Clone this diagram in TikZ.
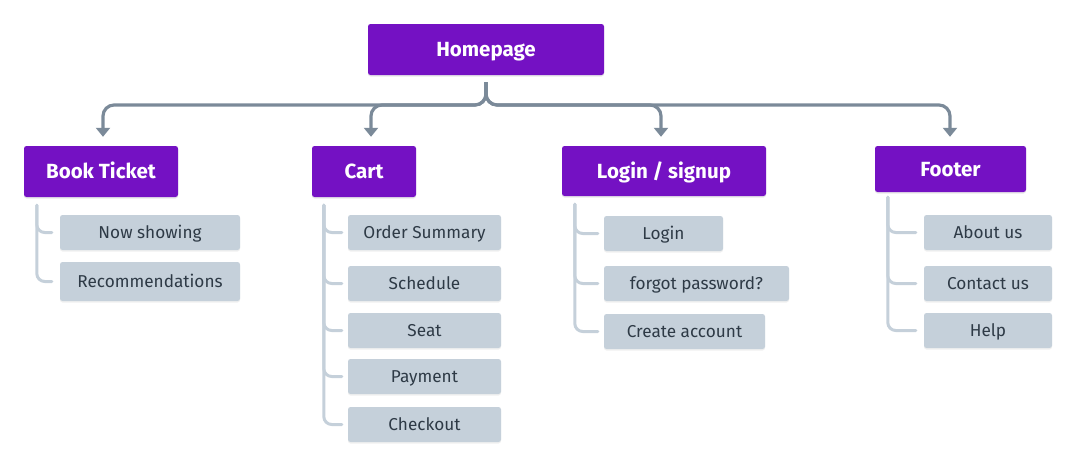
\documentclass[tikz,border=0pt]{standalone}
\usepackage{fontspec}
\setmainfont{Fira Sans}
\usetikzlibrary{arrows.meta,shadows}
\definecolor{hpurple}{HTML}{7411C3}
\definecolor{cfill}{HTML}{C5D0DA}
\definecolor{ctext}{HTML}{2E3A46}
\definecolor{connc}{HTML}{7B8A99}
\definecolor{brkc}{HTML}{C5D0DA}
\tikzset{
  head/.style={fill=hpurple, rounded corners=2.5pt, text=white, font=\fontsize{20.5}{24}\selectfont\bfseries, inner sep=0pt,
    text height=14pt, text depth=0pt,
    drop shadow={opacity=0.18, shadow xshift=0pt, shadow yshift=-1.5pt}},
  child/.style={fill=cfill, rounded corners=2.5pt, text=ctext, font=\fontsize{17.2}{20}\selectfont, inner sep=0pt,
    text height=11.8pt, text depth=0pt,
    minimum height=35pt, drop shadow={opacity=0.12, shadow xshift=0pt, shadow yshift=-1.5pt}},
  conn/.style={draw=connc, line width=3.2pt, rounded corners=11pt, -{Triangle[width=14pt,length=9pt]}, shorten >=9pt},
  brk/.style={draw=brkc, line width=3pt, rounded corners=8pt, line cap=round}
}
\begin{document}
\begin{tikzpicture}[x=1pt,y=-1pt]
\useasboundingbox (0,0) rectangle (1077,467);
% headers
\node[head, minimum width=236pt, minimum height=51pt] (home) at (486,49.5) {Homepage};
\node[head, minimum width=154pt, minimum height=51pt] (book) at (101,171.5) {Book Ticket};
\node[head, minimum width=104pt, minimum height=51pt] (cart) at (364,171.5) {Cart};
\node[head, minimum width=204pt, minimum height=50pt] (login) at (664,171) {Login / signup};
\node[head, minimum width=151pt, minimum height=46pt] (footer) at (950.5,169) {Footer};
% children
\node[child, minimum width=180pt] (now) at (150,232.5) {Now showing};
\node[child, minimum width=180pt, minimum height=39pt] (rec) at (150,281.5) {Recommendations};
\node[child, minimum width=153pt] (order) at (424.5,232.5) {Order Summary};
\node[child, minimum width=153pt] (sched) at (424.5,283.5) {Schedule};
\node[child, minimum width=153pt] (seat) at (424.5,330.5) {Seat};
\node[child, minimum width=153pt] (pay) at (424.5,376.5) {Payment};
\node[child, minimum width=153pt] (check) at (424.5,424.5) {Checkout};
\node[child, minimum width=119pt] (loginc) at (663.5,233.5) {Login};
\node[child, minimum width=185pt] (forgot) at (696.5,283.5) {forgot password?};
\node[child, minimum width=161pt] (create) at (684.5,331.5) {Create account};
\node[child, minimum width=128pt] (about) at (988,232.5) {About us};
\node[child, minimum width=128pt] (contact) at (988,283.5) {Contact us};
\node[child, minimum width=128pt] (help) at (988,330.5) {Help};
% hub connectors
\coordinate (top) at ([yshift=-7pt]home.south);
\coordinate (hubpt) at (486,105);
\draw[conn] (top) -- (hubpt) -| ([xshift=2pt]book.north);
\draw[conn] (top) -- (hubpt) -| ([xshift=7pt]cart.north);
\draw[conn] (top) -- (hubpt) -| ([xshift=-3pt]login.north);
\draw[conn] (top) -- (hubpt) -| ([xshift=-0.5pt]footer.north);
% brackets
\coordinate (bk) at ([xshift=13pt,yshift=-8pt]book.south west);
\draw[brk] (bk) |- ([xshift=-8pt]now.west);
\draw[brk] (bk) |- ([xshift=-8pt]rec.west);
\coordinate (ck) at ([xshift=12pt,yshift=-8pt]cart.south west);
\foreach \c in {order,sched,seat,pay,check}
  \draw[brk] (ck) |- ([xshift=-6pt]\c.west);
\coordinate (lk) at ([xshift=13pt,yshift=-8pt]login.south west);
\foreach \c in {loginc,forgot,create}
  \draw[brk] (lk) |- ([xshift=-6pt]\c.west);
\coordinate (fk) at ([xshift=13pt,yshift=-5pt]footer.south west);
\foreach \c in {about,contact,help}
  \draw[brk] (fk) |- ([xshift=-8pt]\c.west);
\end{tikzpicture}
\end{document}
